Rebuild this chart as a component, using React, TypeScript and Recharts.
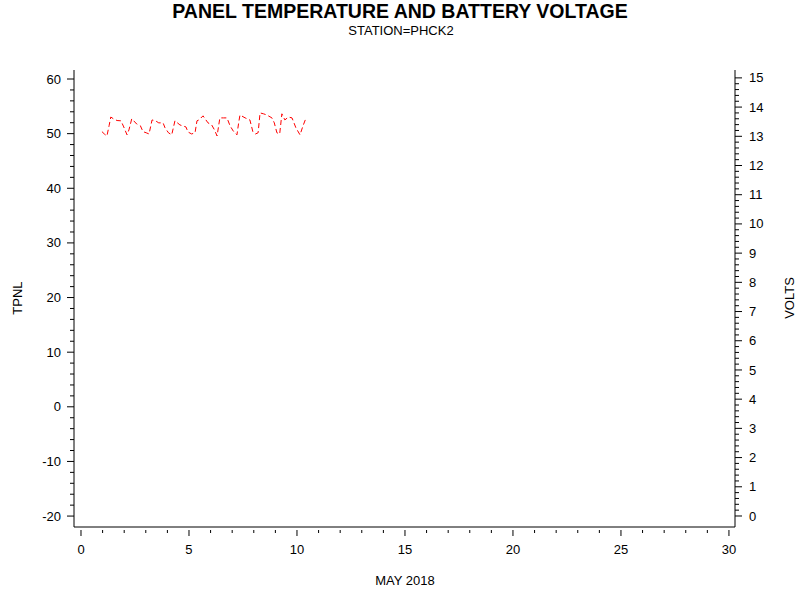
import { LineChart, Line, XAxis, YAxis } from 'recharts'

// battery voltage samples (day of May 2018, volts)
const days = [
  0.97, 1.08, 1.2, 1.3, 1.38, 1.5, 1.67, 1.85, 1.98, 2.13,
  2.22, 2.35, 2.58, 2.75, 2.87, 3.02, 3.15, 3.29, 3.45, 3.6,
  3.8, 3.89, 4.05, 4.2, 4.35, 4.58, 4.86, 4.95, 5.12, 5.28,
  5.37, 5.46, 5.65, 5.88, 6.05, 6.18, 6.3, 6.43, 6.6, 6.76,
  6.9, 7.05, 7.22, 7.3, 7.36, 7.6, 7.82, 7.96, 8.08, 8.2,
  8.29, 8.45, 8.6, 8.84, 8.95, 9.07, 9.2, 9.3, 9.44, 9.6,
  9.77, 9.95, 10.14, 10.28, 10.42,
]
const volts = [
  13.16, 13.08, 13.01, 13.36, 13.66, 13.6, 13.54, 13.53, 13.32, 13.05,
  13.22, 13.6, 13.42, 13.36, 13.16, 13.12, 13.08, 13.56, 13.53, 13.46,
  13.46, 13.29, 13.12, 13.05, 13.53, 13.39, 13.32, 13.15, 13.08, 13.12,
  13.53, 13.56, 13.7, 13.46, 13.39, 13.22, 13.01, 13.63, 13.63, 13.63,
  13.36, 13.18, 13.05, 13.46, 13.73, 13.63, 13.56, 13.15, 13.08, 13.12,
  13.8, 13.77, 13.73, 13.63, 13.46, 13.12, 13.08, 13.77, 13.56, 13.66,
  13.63, 13.29, 13.05, 13.36, 13.63,
]

const xTicks = Array.from({ length: 31 }, (_, i) => i)
const leftTicks = Array.from({ length: 41 }, (_, i) => -20 + i * 2)
const rightTicks = Array.from({ length: 76 }, (_, i) => Math.round(i * 2) / 10)

const data = days.map((day, i) => ({ day, volts: volts[i] }))

const FONT = '"Liberation Sans", Arial, sans-serif'

function BottomTick({ x, y, payload }: any) {
  const major = payload.value % 5 === 0
  return (
    <g>
      <line x1={x} x2={x} y1={y + 3} y2={y + (major ? 9 : 6)} stroke="#000" />
      {major && (
        <text x={x} y={y + 22} dy="0.35em" textAnchor="middle" fontSize={13} fontFamily={FONT} fill="#000">
          {payload.value}
        </text>
      )}
    </g>
  )
}

function LeftTick({ x, y, payload }: any) {
  const major = payload.value % 10 === 0
  return (
    <g>
      <line x1={x} x2={x - (major ? 7 : 4)} y1={y} y2={y} stroke="#000" />
      {major && (
        <text x={x - 13} y={y} dy="0.35em" textAnchor="end" fontSize={13} fontFamily={FONT} fill="#000">
          {payload.value}
        </text>
      )}
    </g>
  )
}

function RightTick({ x, y, payload }: any) {
  const major = Math.abs(payload.value - Math.round(payload.value)) < 1e-6
  return (
    <g>
      <line x1={x} x2={x + (major ? 7 : 4)} y1={y} y2={y} stroke="#000" />
      {major && (
        <text x={x + 14} y={y} dy="0.35em" textAnchor="start" fontSize={13} fontFamily={FONT} fill="#000">
          {Math.round(payload.value)}
        </text>
      )}
    </g>
  )
}

export default function App() {
  return (
    <div style={{ position: 'absolute', left: 0, top: 0, width: 800, height: 600, background: '#fff' }}>
      <LineChart width={800} height={600} data={data} margin={{ top: 70, right: 0, left: 0, bottom: 0 }}>
        <XAxis
          xAxisId="x"
          type="number"
          dataKey="day"
          domain={[-0.324, 30.28]}
          ticks={xTicks}
          interval={0}
          height={73}
          tickSize={0}
          tickMargin={0}
          tickLine={false}
          axisLine={{ stroke: '#000' }}
          tick={<BottomTick />}
          allowDataOverflow
        />
        <XAxis
          xAxisId="top"
          orientation="top"
          type="number"
          dataKey="day"
          domain={[-0.324, 30.28]}
          height={0}
          tick={false}
          tickLine={false}
          axisLine={{ stroke: '#000' }}
          allowDataOverflow
        />
        <YAxis
          yAxisId="left"
          type="number"
          domain={[-22, 61.65]}
          ticks={leftTicks}
          interval={0}
          width={74}
          tickSize={0}
          tickMargin={0}
          tickLine={false}
          axisLine={{ stroke: '#000' }}
          tick={<LeftTick />}
          allowDataOverflow
        />
        <YAxis
          yAxisId="right"
          orientation="right"
          type="number"
          domain={[-0.377, 15.27]}
          ticks={rightTicks}
          interval={0}
          width={65}
          tickSize={0}
          tickMargin={0}
          tickLine={false}
          axisLine={{ stroke: '#000' }}
          tick={<RightTick />}
          allowDataOverflow
        />
        <Line
          xAxisId="x"
          yAxisId="right"
          type="linear"
          dataKey="volts"
          stroke="#ff0000"
          strokeWidth={1}
          strokeDasharray="5 3"
          dot={false}
          isAnimationActive={false}
        />
      </LineChart>
      <svg width={800} height={600} style={{ position: 'absolute', left: 0, top: 0, pointerEvents: 'none' }}>
        <text x={400} y={18} textAnchor="middle" fontSize={19.5} fontWeight="bold" fontFamily={FONT} fill="#000">
          PANEL TEMPERATURE AND BATTERY VOLTAGE
        </text>
        <text x={401} y={35} textAnchor="middle" fontSize={13} fontFamily={FONT} fill="#000">
          STATION=PHCK2
        </text>
        <text x={405} y={585} textAnchor="middle" fontSize={13} fontFamily={FONT} fill="#000">
          MAY 2018
        </text>
        <text x={22} y={298} textAnchor="middle" fontSize={13} fontFamily={FONT} fill="#000" transform="rotate(-90 22 298)">
          TPNL
        </text>
        <text x={794} y={298} textAnchor="middle" fontSize={13} fontFamily={FONT} fill="#000" transform="rotate(-90 794 298)">
          VOLTS
        </text>
      </svg>
    </div>
  )
}
